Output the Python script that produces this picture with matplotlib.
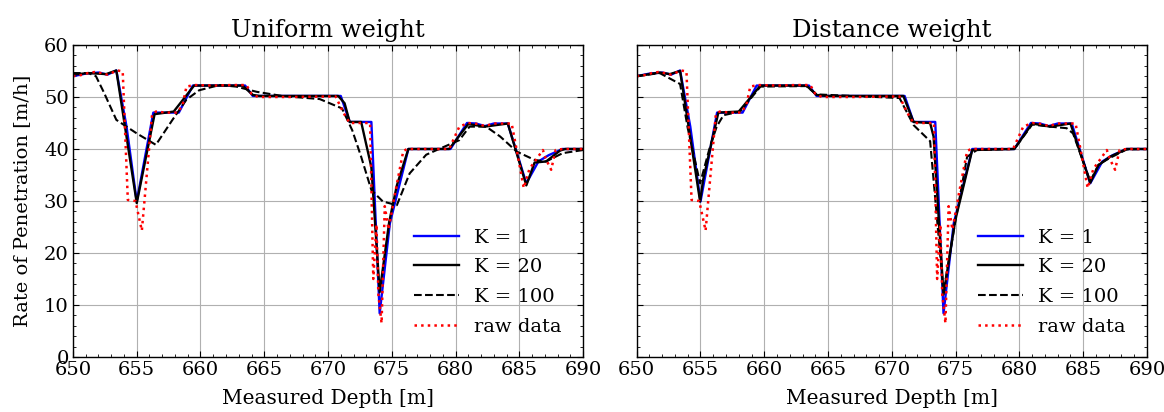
import matplotlib
matplotlib.use("Agg")
import matplotlib.pyplot as plt
from matplotlib.ticker import MultipleLocator

# ---------------- data ----------------
raw_depth = [650.0, 650.6, 651.2, 651.7, 652.2, 652.7, 653.1, 653.5, 653.9, 654.3,
             654.9, 655.4, 656.2, 656.5, 657.3, 658.2, 658.6, 658.9, 659.5, 661.0,
             662.5, 663.6, 664.0, 664.5, 667.0, 670.6, 671.2, 671.7, 673.3, 673.55,
             673.8, 673.95, 674.2, 674.45, 674.75, 675.3, 675.9, 676.2, 679.5, 680.3,
             681.0, 681.8, 682.3, 683.0, 684.4, 684.8, 685.35, 685.8, 686.1, 686.85,
             687.1, 687.5, 687.85, 688.4, 690.0]
raw_rop = [54.0, 54.2, 54.6, 54.8, 54.6, 54.3, 54.7, 55.1, 54.9, 30.2,
           30.0, 24.3, 46.6, 47.2, 47.0, 47.0, 48.5, 52.0, 52.3, 52.2,
           52.3, 52.3, 50.6, 50.0, 50.0, 50.1, 47.0, 45.0, 45.0, 15.0,
           25.5, 12.0, 6.5, 29.0, 24.5, 32.0, 39.6, 40.0, 40.0, 44.3,
           45.0, 44.8, 44.4, 44.9, 44.9, 39.8, 32.5, 36.2, 37.2, 39.8,
           38.0, 36.0, 39.8, 40.0, 40.0]

k1_depth = [650.0, 651.0, 652.0, 652.7, 653.4, 654.2, 655.0, 656.3, 658.3, 659.4,
            663.5, 664.1, 671.0, 671.7, 673.4, 674.05, 674.85, 676.3, 679.6, 680.9,
            681.6, 682.3, 683.0, 684.1, 685.55, 686.5, 687.3, 688.4, 690.0]
k1_rop = [54.0, 54.5, 54.7, 54.3, 55.1, 44.3, 29.9, 47.0, 47.0, 52.2,
          52.2, 50.2, 50.2, 45.2, 45.2, 8.4, 25.7, 40.0, 40.0, 45.0,
          44.9, 44.4, 44.9, 44.9, 33.4, 37.6, 38.8, 40.0, 40.0]

uni_k20_depth = [650.0, 651.2, 652.6, 653.4, 655.0, 656.4, 657.9, 659.5, 663.3, 664.1,
                 664.6, 670.8, 671.3, 671.7, 672.6, 673.4, 674.05, 674.8, 675.4, 676.3,
                 679.5, 681.0, 682.3, 684.1, 685.55, 686.2, 687.1, 688.2, 688.6, 690.0]
uni_k20_rop = [54.3, 54.6, 54.4, 55.1, 29.6, 46.7, 47.2, 52.2, 52.2, 50.4,
               50.2, 50.2, 48.8, 45.2, 45.2, 36.5, 12.5, 26.0, 33.0, 40.0,
               40.0, 44.8, 44.3, 44.9, 33.0, 37.4, 37.6, 39.7, 40.0, 40.0]

uni_k100_depth = [650.0, 651.2, 651.8, 652.4, 653.4, 655.0, 656.5, 657.8, 658.9, 659.9,
                  661.5, 662.8, 664.4, 666.4, 669.35, 671.1, 671.9, 672.6, 673.4, 674.3,
                  675.4, 676.4, 677.7, 678.8, 680.3, 681.1, 682.4, 683.5, 684.8, 686.2,
                  687.1, 688.4, 690.0]
uni_k100_rop = [54.6, 54.6, 54.0, 51.0, 45.6, 43.0, 40.8, 45.6, 49.5, 51.3,
                52.3, 52.0, 51.0, 50.2, 49.6, 47.8, 43.6, 38.5, 32.1, 29.9,
                29.2, 35.3, 38.9, 40.1, 41.7, 44.3, 44.3, 42.4, 39.5, 37.9,
                37.6, 39.2, 39.8]

dist_k20_depth = [650.0, 651.8, 652.6, 653.4, 654.97, 655.2, 656.4, 658.0, 659.7, 663.3,
                  664.1, 664.9, 670.9, 671.7, 673.0, 673.27, 674.05, 674.97, 676.3, 679.6,
                  681.0, 682.4, 684.0, 685.55, 686.2, 687.1, 688.4, 690.0]
dist_k20_rop = [54.0, 54.7, 54.4, 55.0, 29.9, 34.0, 47.0, 47.2, 52.2, 52.2,
                50.4, 50.2, 50.2, 45.2, 45.0, 42.4, 12.0, 26.3, 39.8, 40.0,
                44.9, 44.3, 44.9, 33.5, 36.9, 38.5, 40.0, 40.0]

dist_k100_depth = [650.0, 651.8, 653.4, 654.0, 654.97, 655.75, 656.27, 656.8, 658.1, 659.7,
                   663.3, 664.1, 670.6, 671.7, 673.0, 674.05, 674.97, 675.9, 676.66, 679.6,
                   681.0, 682.4, 683.7, 684.2, 685.55, 686.2, 687.1, 688.4, 690.0]
dist_k100_rop = [54.0, 54.6, 52.5, 44.0, 33.4, 40.5, 44.3, 46.5, 47.2, 52.0,
                 52.1, 50.5, 49.8, 44.6, 41.5, 12.5, 26.0, 38.5, 39.8, 40.0,
                 44.7, 44.3, 44.0, 43.0, 33.8, 37.0, 38.3, 39.9, 40.0]

titles = ["Uniform weight", "Distance weight"]
labels = ["K = 1", "K = 20", "K = 100", "raw data"]

# ---------------- style ----------------
plt.rcParams.update({
    "font.family": ["DejaVu Serif"],
    "font.size": 14,
    "xtick.direction": "in",
    "ytick.direction": "in",
    "xtick.top": True,
    "ytick.right": True,
    "xtick.major.size": 4.5,
    "ytick.major.size": 4.5,
    "xtick.minor.size": 2.5,
    "ytick.minor.size": 2.5,
    "xtick.minor.visible": True,
    "ytick.minor.visible": True,
    "axes.linewidth": 1.0,
})

fig = plt.figure(figsize=(11.64, 4.12), dpi=100)
ax1 = fig.add_axes([0.0627, 0.1335, 0.4382, 0.7573])
ax2 = fig.add_axes([0.547, 0.1335, 0.4384, 0.7573], sharey=ax1)

series = [
    (ax1, uni_k20_depth, uni_k20_rop, uni_k100_depth, uni_k100_rop),
    (ax2, dist_k20_depth, dist_k20_rop, dist_k100_depth, dist_k100_rop),
]

for i, (ax, d20, r20, d100, r100) in enumerate(series):
    ax.plot(k1_depth, k1_rop, color="blue", lw=1.7, label=labels[0])
    ax.plot(d20, r20, color="black", lw=1.7, label=labels[1])
    ax.plot(d100, r100, color="black", lw=1.5, ls="--", label=labels[2])
    ax.plot(raw_depth, raw_rop, color="red", lw=1.8, ls=":", label=labels[3])
    ax.set_xlim(650, 690)
    ax.set_ylim(0, 60)
    ax.xaxis.set_major_locator(MultipleLocator(5))
    ax.xaxis.set_minor_locator(MultipleLocator(1))
    ax.yaxis.set_major_locator(MultipleLocator(10))
    ax.yaxis.set_minor_locator(MultipleLocator(2))
    ax.grid(True, which="major", color="#b0b0b0", lw=0.8)
    ax.set_axisbelow(True)
    ax.set_title(titles[i], fontsize=17.5, pad=6)
    ax.set_xlabel("Measured Depth [m]", fontsize=14.5, labelpad=7)
    ax.tick_params(labelsize=14, pad=3)
    ax.legend(loc="lower right", frameon=False, fontsize=14,
              handlelength=2.3, handletextpad=0.8, labelspacing=0.6,
              borderaxespad=0.7)

ax1.set_ylabel("Rate of Penetration [m/h]", fontsize=14, labelpad=9)
plt.setp(ax2.get_yticklabels(), visible=False)

fig.savefig("out.png", dpi=100)
